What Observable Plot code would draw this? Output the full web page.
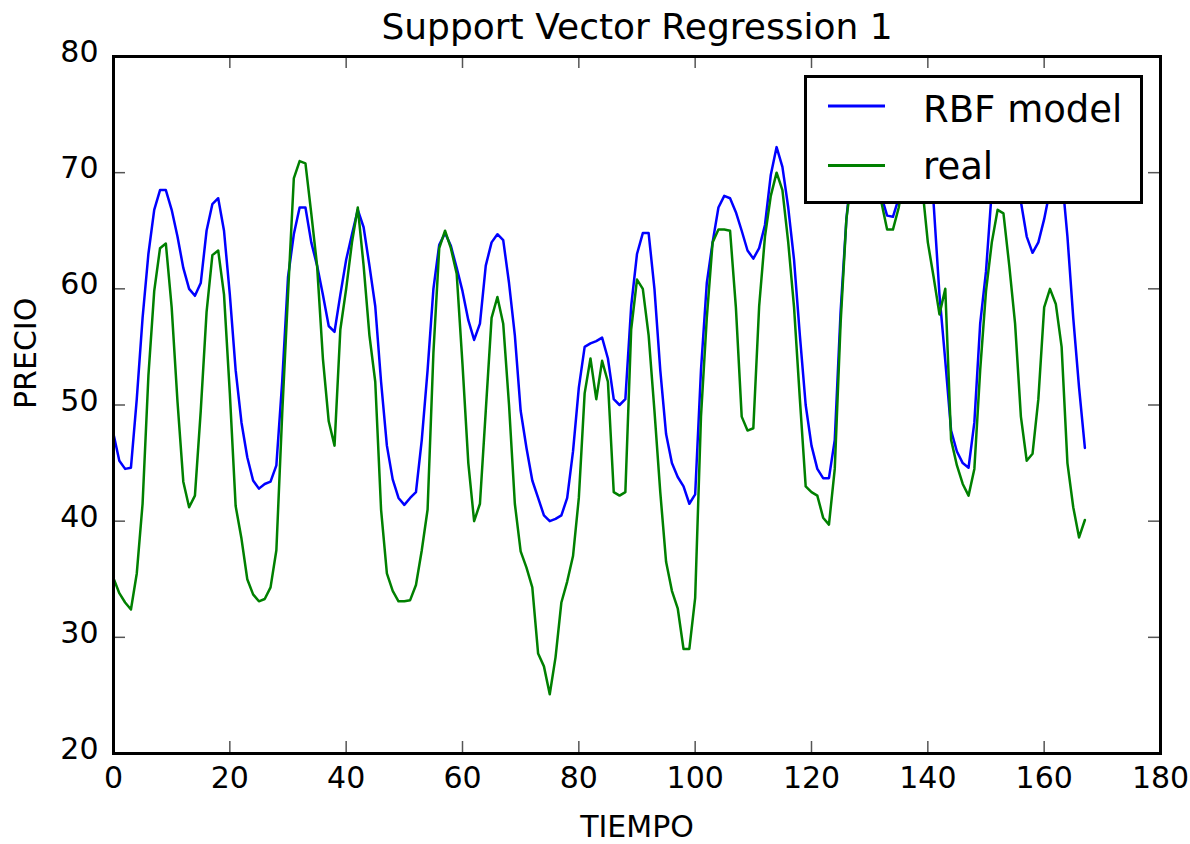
<!DOCTYPE html>
<html>
<head>
<meta charset="utf-8">
<script src="https://cdn.jsdelivr.net/npm/d3@7"></script>
<script src="https://cdn.jsdelivr.net/npm/@observablehq/plot@0.6"></script>
<style>
  html, body { margin: 0; padding: 0; background: white; }
  #wrap { position: relative; width: 1190px; height: 844px; font-family: "DejaVu Sans", sans-serif; }
  #legend { position: absolute; left: 804px; top: 75px; }
</style>
</head>
<body>
<div id="wrap"></div>
<script>
const title = "Support Vector Regression 1";
const xLabel = "TIEMPO";
const yLabel = "PRECIO";
const seriesNames = ["RBF model", "real"];
const seriesColors = ["#0000ff", "#008000"];
const xTicks = [0, 20, 40, 60, 80, 100, 120, 140, 160, 180];
const yTicks = [20, 30, 40, 50, 60, 70, 80];

// RBF model predictions, one per time step (0..167)
const rbf = [
  47.5, 45.2, 44.5, 44.6, 50.5, 57.5, 63.0, 66.8, 68.5, 68.5,
  66.8, 64.5, 61.8, 60.0, 59.4, 60.5, 65.0, 67.3, 67.8, 65.0,
  59.5, 53.0, 48.5, 45.5, 43.5, 42.8, 43.2, 43.4, 44.8, 52.0,
  61.0, 64.7, 67.0, 67.0, 64.0, 62.0, 59.5, 56.8, 56.3, 59.5,
  62.5, 64.7, 66.8, 65.3, 62.0, 58.5, 52.0, 46.5, 43.6, 42.0,
  41.4, 42.0, 42.5, 47.0, 53.0, 60.0, 63.8, 64.8, 63.7, 61.8,
  59.8, 57.3, 55.6, 57.0, 62.0, 64.0, 64.7, 64.2, 60.5, 56.0,
  49.5, 46.3, 43.5, 42.0, 40.5, 40.0, 40.2, 40.5, 42.0, 46.0,
  51.5, 55.0, 55.3, 55.5, 55.8, 54.0, 50.5, 50.0, 50.5, 58.5,
  63.0, 64.8, 64.8, 60.0, 53.0, 47.5, 45.0, 43.8, 43.0, 41.5,
  42.3, 53.0, 60.5, 64.0, 67.0, 68.0, 67.8, 66.6, 65.0, 63.3,
  62.6, 63.5, 65.5, 69.8, 72.2, 70.5, 67.0, 62.5, 56.0, 50.0,
  46.5, 44.5, 43.7, 43.7, 47.0, 58.0, 66.0, 71.0, 72.5, 73.0,
  72.5, 70.5, 68.0, 66.3, 66.2, 67.8, 70.5, 72.5, 73.0, 72.0,
  70.0, 67.3, 59.5, 53.8, 47.8, 46.0, 45.0, 44.6, 48.5, 57.0,
  61.5, 68.5, 71.0, 72.5, 73.0, 71.0, 67.5, 64.5, 63.1, 64.0,
  66.0, 68.5, 70.5, 70.0, 64.5, 57.5, 51.5, 46.3
];

// Real prices, one per time step (0..167)
const real = [
  35.1, 33.8, 33.0, 32.4, 35.5, 41.5, 52.5, 59.8, 63.5, 63.9,
  58.4, 50.3, 43.4, 41.2, 42.2, 49.5, 58.0, 62.9, 63.3, 59.5,
  51.0, 41.3, 38.5, 35.0, 33.7, 33.1, 33.3, 34.3, 37.5, 49.2,
  59.5, 69.5, 71.0, 70.8, 66.5, 62.0, 54.0, 48.6, 46.5, 56.5,
  60.0, 64.0, 67.0, 62.0, 56.0, 52.0, 41.0, 35.5, 34.0, 33.1,
  33.1, 33.2, 34.5, 37.5, 41.0, 54.5, 63.5, 65.0, 63.5, 61.3,
  53.5, 45.0, 40.0, 41.5, 49.5, 57.5, 59.3, 57.0, 50.0, 41.5,
  37.4, 36.0, 34.3, 28.6, 27.5, 25.1, 28.3, 33.0, 34.8, 37.0,
  42.0, 51.0, 54.0, 50.5, 53.8, 52.0, 42.5, 42.2, 42.5, 56.5,
  60.8, 60.0, 56.0, 49.5, 42.5, 36.5, 34.0, 32.5, 29.0, 29.0,
  33.4, 49.0, 57.5, 64.0, 65.1, 65.1, 65.0, 58.4, 49.0, 47.8,
  48.0, 58.5, 64.5, 68.0, 70.0, 68.5, 64.0, 58.4, 50.5, 43.0,
  42.5, 42.2, 40.3, 39.7, 44.5, 57.0, 66.0, 70.0, 72.0, 72.5,
  72.0, 70.0, 67.5, 65.1, 65.1, 67.0, 70.0, 72.0, 72.0, 69.0,
  64.0, 61.0, 57.8, 60.0, 47.0, 44.8, 43.2, 42.2, 44.5, 53.0,
  59.8, 64.0, 66.8, 66.5, 62.0, 57.0, 49.0, 45.2, 45.8, 50.5,
  58.4, 60.0, 58.7, 55.0, 45.0, 41.2, 38.6, 40.1
];

const rows = rbf.map((v, i) => ({t: i, rbf: v, real: real[i]}));

const W = 1190, H = 844;
const mL = 113, mT = 56, mR = 30, mB = 91;
const innerW = W - mL - mR, innerH = H - mT - mB;
const tickLen = 12;
const tickStyle = {stroke: "#555", strokeWidth: 1.5};
const innerX = xTicks.slice(1, -1);
const innerY = yTicks.slice(1, -1);

const chart = Plot.plot({
  width: W,
  height: H,
  marginLeft: mL,
  marginTop: mT,
  marginRight: mR,
  marginBottom: mB,
  style: {fontFamily: "DejaVu Sans", fontSize: "30px", background: "white", color: "black"},
  x: {domain: [0, 180], label: null},
  y: {domain: [20, 80], label: null},
  marks: [
    Plot.line(rows, {x: "t", y: "rbf", stroke: seriesColors[0], strokeWidth: 2.5}),
    Plot.line(rows, {x: "t", y: "real", stroke: seriesColors[1], strokeWidth: 2.5}),
    // inward ticks on all four sides
    Plot.tickX(innerX, {x: d => d, insetTop: innerH - tickLen, ...tickStyle}),
    Plot.tickX(innerX, {x: d => d, insetBottom: innerH - tickLen, ...tickStyle}),
    Plot.tickY(innerY, {y: d => d, insetRight: innerW - tickLen, ...tickStyle}),
    Plot.tickY(innerY, {y: d => d, insetLeft: innerW - tickLen, ...tickStyle}),
    Plot.axisX({ticks: xTicks, tickSize: 0, tickPadding: 13, label: null, tickFormat: d => String(d)}),
    Plot.axisY({ticks: yTicks, tickSize: 0, tickPadding: 15, dy: -4, label: null, tickFormat: d => String(d)}),
    Plot.frame({stroke: "black", strokeWidth: 3}),
    Plot.text([title], {text: d => d, frameAnchor: "top", lineAnchor: "middle", dy: -29, fontSize: 36, fill: "black"}),
    Plot.text([xLabel], {text: d => d, frameAnchor: "bottom", lineAnchor: "middle", dy: 74, fontSize: 30, fill: "black"}),
    Plot.text([yLabel], {text: d => d, frameAnchor: "left", lineAnchor: "middle", dx: -87, dy: 4, rotate: -90, fontSize: 30, fill: "black"})
  ]
});

const wrap = document.getElementById("wrap");
wrap.appendChild(chart);

// Legend overlay (drawn on top of the lines, like the original)
const lg = d3.create("svg")
  .attr("id", "legend")
  .attr("width", 340)
  .attr("height", 130)
  .style("font-family", "DejaVu Sans");
lg.append("rect").attr("x", 1.5).attr("y", 1.5).attr("width", 336).attr("height", 126)
  .attr("fill", "white").attr("stroke", "black").attr("stroke-width", 3);
const rowsY = [31, 90.5];
const textY = [46.5, 103.5];
seriesNames.forEach((name, i) => {
  lg.append("line").attr("x1", 24).attr("x2", 81).attr("y1", rowsY[i]).attr("y2", rowsY[i])
    .attr("stroke", seriesColors[i]).attr("stroke-width", 3);
  lg.append("text").attr("x", 119).attr("y", textY[i]).attr("font-size", 37).attr("fill", "black").text(name);
});
wrap.appendChild(lg.node());
</script>
</body>
</html>
